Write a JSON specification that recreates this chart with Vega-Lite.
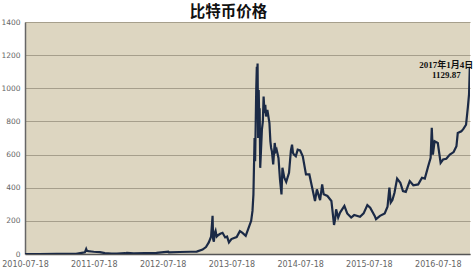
{
  "$schema": "https://vega.github.io/schema/vega-lite/v6.json",
  "autosize": "none",
  "width": 445,
  "height": 232,
  "padding": {"left": 25, "top": 22, "right": 4, "bottom": 19},
  "background": "#ffffff",
  "title": {"text": "比特币价格", "font": "Noto Sans CJK SC", "fontSize": 15.5, "fontWeight": "bold", "color": "#111111", "anchor": "middle", "frame": "group", "dx": -19, "dy": 7, "offset": 5},
  "config": {"view": {"stroke": null, "fill": "#ddd6c1"}},
  "encoding": {
    "x": {"field": "d", "type": "temporal",
      "scale": {"type": "utc", "domain": [{"year":2010,"month":7,"date":18,"utc":true},{"year":2017,"month":1,"date":5,"utc":true}]},
      "axis": {"title": null, "labelExpr": "utcFormat(datum.value, '%Y-%m-%d')", "grid": false, "ticks": false,
        "values": [{"year":2010,"month":7,"date":18,"utc":true},{"year":2011,"month":7,"date":18,"utc":true},{"year":2012,"month":7,"date":18,"utc":true},{"year":2013,"month":7,"date":18,"utc":true},{"year":2014,"month":7,"date":18,"utc":true},{"year":2015,"month":7,"date":18,"utc":true},{"year":2016,"month":7,"date":18,"utc":true}],
        "labelFont": "DejaVu Sans", "labelFontSize": 8, "labelColor": "#666666", "labelPadding": 6,
        "domainColor": "#555555", "domainWidth": 1.5, "labelOverlap": false, "labelFlush": false}},
    "y": {"field": "p", "type": "quantitative",
      "scale": {"domain": [0, 1400], "nice": false},
      "axis": {"title": null, "values": [0,200,400,600,800,1000,1200,1400], "format": "d", "ticks": false,
        "grid": true, "gridColor": "#a69f8c", "gridWidth": 1, "labelOverlap": false, "labelFlush": false,
        "labelFont": "DejaVu Sans", "labelFontSize": 7.5, "labelColor": "#666666", "labelPadding": 5,
        "domainColor": "#666666", "domainWidth": 1.5}}
  },
  "layer": [
    {
      "data": {"values": [
        {"d":"2010-07-18","p":0.09},{"d":"2010-10-01","p":0.1},{"d":"2011-01-01","p":0.3},{"d":"2011-02-10","p":1},
        {"d":"2011-04-15","p":1.2},{"d":"2011-05-15","p":7},{"d":"2011-06-01","p":10},{"d":"2011-06-08","p":30},
        {"d":"2011-06-12","p":19},{"d":"2011-06-20","p":17},{"d":"2011-07-05","p":15},{"d":"2011-07-18","p":13.5},
        {"d":"2011-08-20","p":11},{"d":"2011-09-15","p":5},{"d":"2011-10-20","p":2.5},{"d":"2011-11-18","p":2.1},
        {"d":"2011-12-31","p":4.7},{"d":"2012-01-10","p":7},{"d":"2012-02-15","p":4.5},{"d":"2012-04-15","p":5},
        {"d":"2012-06-15","p":6.5},{"d":"2012-08-17","p":13.5},{"d":"2012-08-20","p":10},{"d":"2012-10-15","p":12},
        {"d":"2012-12-15","p":13.5},{"d":"2013-01-15","p":14.5},{"d":"2013-02-15","p":27},{"d":"2013-03-05","p":42},
        {"d":"2013-03-20","p":70},{"d":"2013-04-01","p":104},{"d":"2013-04-09","p":230},{"d":"2013-04-12","p":90},
        {"d":"2013-04-16","p":75},{"d":"2013-04-20","p":125},{"d":"2013-04-25","p":140},{"d":"2013-05-01","p":105},
        {"d":"2013-05-10","p":115},{"d":"2013-05-20","p":122},{"d":"2013-06-01","p":128},{"d":"2013-06-15","p":100},
        {"d":"2013-06-25","p":105},{"d":"2013-07-05","p":70},{"d":"2013-07-18","p":90},{"d":"2013-08-01","p":97},
        {"d":"2013-08-15","p":102},{"d":"2013-09-01","p":138},{"d":"2013-09-15","p":127},{"d":"2013-10-02","p":110},
        {"d":"2013-10-15","p":150},{"d":"2013-10-31","p":200},{"d":"2013-11-07","p":260},{"d":"2013-11-12","p":360},
        {"d":"2013-11-18","p":700},{"d":"2013-11-21","p":560},{"d":"2013-11-27","p":1000},{"d":"2013-11-30","p":1130},
        {"d":"2013-12-02","p":1050},{"d":"2013-12-04","p":1150},{"d":"2013-12-07","p":700},{"d":"2013-12-10","p":990},
        {"d":"2013-12-12","p":860},{"d":"2013-12-15","p":880},{"d":"2013-12-18","p":520},{"d":"2013-12-22","p":620},
        {"d":"2013-12-27","p":750},{"d":"2014-01-01","p":800},{"d":"2014-01-05","p":950},{"d":"2014-01-10","p":850},
        {"d":"2014-01-14","p":900},{"d":"2014-01-18","p":830},{"d":"2014-01-25","p":870},{"d":"2014-02-05","p":790},
        {"d":"2014-02-10","p":680},{"d":"2014-02-14","p":640},{"d":"2014-02-18","p":620},{"d":"2014-02-25","p":540},
        {"d":"2014-03-05","p":670},{"d":"2014-03-10","p":620},{"d":"2014-03-15","p":630},{"d":"2014-03-25","p":580},
        {"d":"2014-04-02","p":450},{"d":"2014-04-10","p":360},{"d":"2014-04-15","p":520},{"d":"2014-04-20","p":490},
        {"d":"2014-04-25","p":460},{"d":"2014-05-05","p":435},{"d":"2014-05-20","p":490},{"d":"2014-05-30","p":625},
        {"d":"2014-06-05","p":660},{"d":"2014-06-10","p":610},{"d":"2014-06-15","p":600},{"d":"2014-06-25","p":590},
        {"d":"2014-07-05","p":630},{"d":"2014-07-18","p":625},{"d":"2014-08-01","p":590},{"d":"2014-08-18","p":480},
        {"d":"2014-09-05","p":480},{"d":"2014-09-20","p":400},{"d":"2014-10-05","p":320},{"d":"2014-10-15","p":390},
        {"d":"2014-11-01","p":325},{"d":"2014-11-12","p":420},{"d":"2014-11-20","p":360},{"d":"2014-12-10","p":350},
        {"d":"2014-12-31","p":320},{"d":"2015-01-05","p":270},{"d":"2015-01-14","p":175},{"d":"2015-01-20","p":210},
        {"d":"2015-01-25","p":270},{"d":"2015-02-05","p":220},{"d":"2015-02-15","p":250},{"d":"2015-03-10","p":290},
        {"d":"2015-03-25","p":245},{"d":"2015-04-15","p":220},{"d":"2015-05-01","p":235},{"d":"2015-06-01","p":225},
        {"d":"2015-06-20","p":245},{"d":"2015-07-10","p":295},{"d":"2015-07-25","p":280},{"d":"2015-08-18","p":230},
        {"d":"2015-08-25","p":210},{"d":"2015-09-15","p":230},{"d":"2015-10-10","p":245},{"d":"2015-10-25","p":285},
        {"d":"2015-11-04","p":400},{"d":"2015-11-11","p":310},{"d":"2015-11-20","p":325},{"d":"2015-12-01","p":370},
        {"d":"2015-12-15","p":455},{"d":"2016-01-01","p":430},{"d":"2016-01-15","p":380},{"d":"2016-01-30","p":375},
        {"d":"2016-02-20","p":440},{"d":"2016-03-10","p":415},{"d":"2016-04-05","p":420},{"d":"2016-04-25","p":460},
        {"d":"2016-05-10","p":455},{"d":"2016-05-28","p":530},{"d":"2016-06-10","p":580},{"d":"2016-06-16","p":762},
        {"d":"2016-06-22","p":600},{"d":"2016-07-01","p":680},{"d":"2016-07-18","p":670},{"d":"2016-08-02","p":550},
        {"d":"2016-08-15","p":570},{"d":"2016-09-01","p":575},{"d":"2016-09-20","p":600},{"d":"2016-10-10","p":615},
        {"d":"2016-10-25","p":650},{"d":"2016-11-01","p":730},{"d":"2016-11-20","p":740},{"d":"2016-12-01","p":755},
        {"d":"2016-12-15","p":780},{"d":"2016-12-25","p":890},{"d":"2016-12-31","p":965},{"d":"2017-01-04","p":1129.87}
      ]},
      "mark": {"type": "line", "color": "#1b2a46", "strokeWidth": 2.2, "clip": true}
    },
    {
      "data": {"values": [
        {"d":"2016-09-01","p":1140,"t":"2017年1月4日"},
        {"d":"2016-09-01","p":1080,"t":"1129.87"}
      ]},
      "mark": {"type": "text", "font": "Liberation Serif, Noto Sans CJK SC", "fontSize": 9, "fontWeight": "bold", "color": "#111111", "align": "center", "baseline": "middle"},
      "encoding": {"text": {"field": "t"}}
    }
  ]
}
